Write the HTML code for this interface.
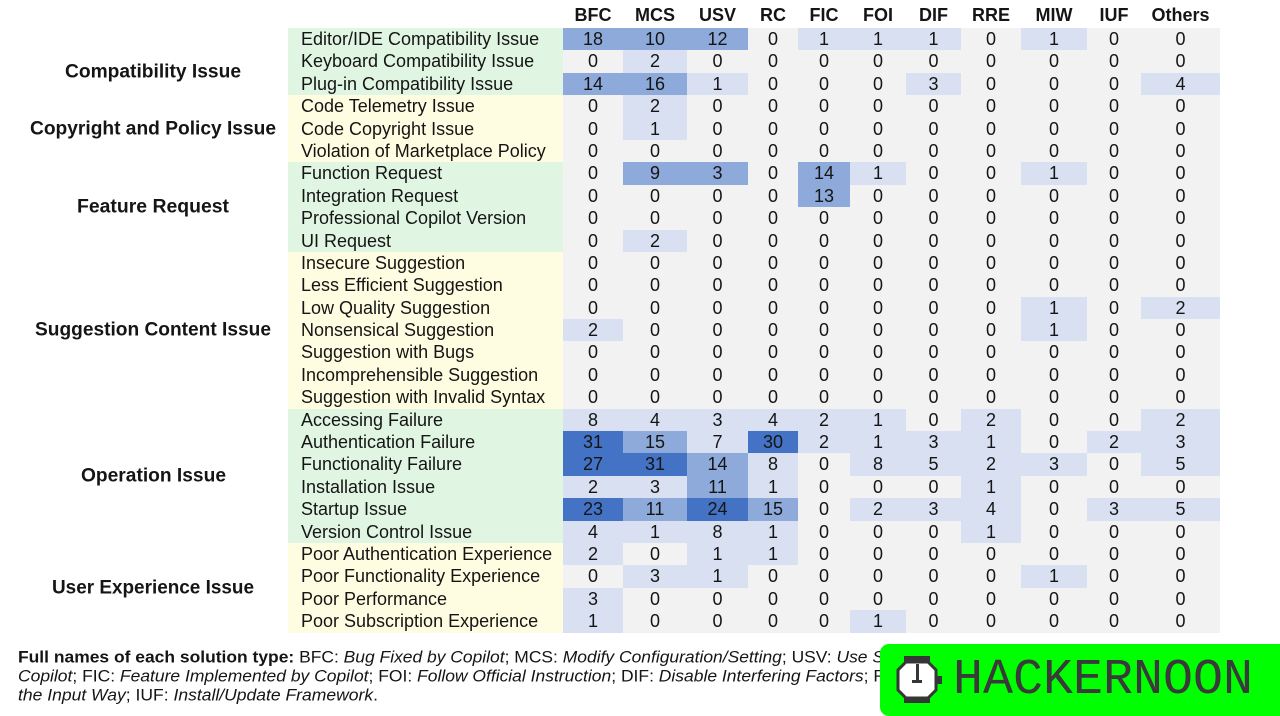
<!DOCTYPE html>
<html><head><meta charset="utf-8">
<style>
*{box-sizing:border-box}
body{margin:0;width:1280px;height:716px;background:#fff;position:relative;overflow:hidden;font-family:"Liberation Sans",Arial,sans-serif;color:#151515}
.grid{position:absolute;left:563px;display:grid;grid-template-columns:60px 64px 61px 50px 52px 56px 55px 60px 66px 54px 79px;grid-auto-rows:22.4px}
.grid div{text-align:center;line-height:22.4px;font-size:18px;white-space:nowrap}
#hdr{top:4px;font-weight:bold}
#bd{top:28px;background:#f2f2f2}
.l{background:#d8e0f1}.m{background:#8eaadb}.d{background:#4472c4}
#lab{position:absolute;left:288px;top:28px;width:275px}
#lab div{height:22.4px;line-height:22.4px;padding-left:13px;font-size:18px;white-space:nowrap}
.g{background:#e0f5e2}.y{background:#fffde1}
svg{position:absolute;left:0;top:0}
</style></head><body>

<div id="hdr" class="grid">
<div>BFC</div><div>MCS</div><div>USV</div><div>RC</div><div>FIC</div><div>FOI</div><div>DIF</div><div>RRE</div><div>MIW</div><div>IUF</div><div>Others</div>
</div>

<div id="lab">
<div class="g">Editor/IDE Compatibility Issue</div>
<div class="g">Keyboard Compatibility Issue</div>
<div class="g">Plug-in Compatibility Issue</div>
<div class="y">Code Telemetry Issue</div>
<div class="y">Code Copyright Issue</div>
<div class="y">Violation of Marketplace Policy</div>
<div class="g">Function Request</div>
<div class="g">Integration Request</div>
<div class="g">Professional Copilot Version</div>
<div class="g">UI Request</div>
<div class="y">Insecure Suggestion</div>
<div class="y">Less Efficient Suggestion</div>
<div class="y">Low Quality Suggestion</div>
<div class="y">Nonsensical Suggestion</div>
<div class="y">Suggestion with Bugs</div>
<div class="y">Incomprehensible Suggestion</div>
<div class="y">Suggestion with Invalid Syntax</div>
<div class="g">Accessing Failure</div>
<div class="g">Authentication Failure</div>
<div class="g">Functionality Failure</div>
<div class="g">Installation Issue</div>
<div class="g">Startup Issue</div>
<div class="g">Version Control Issue</div>
<div class="y">Poor Authentication Experience</div>
<div class="y">Poor Functionality Experience</div>
<div class="y">Poor Performance</div>
<div class="y">Poor Subscription Experience</div>
</div>

<div id="bd" class="grid">
<div class="m">18</div><div class="m">10</div><div class="m">12</div><div>0</div><div class="l">1</div><div class="l">1</div><div class="l">1</div><div>0</div><div class="l">1</div><div>0</div><div>0</div>
<div>0</div><div class="l">2</div><div>0</div><div>0</div><div>0</div><div>0</div><div>0</div><div>0</div><div>0</div><div>0</div><div>0</div>
<div class="m">14</div><div class="m">16</div><div class="l">1</div><div>0</div><div>0</div><div>0</div><div class="l">3</div><div>0</div><div>0</div><div>0</div><div class="l">4</div>
<div>0</div><div class="l">2</div><div>0</div><div>0</div><div>0</div><div>0</div><div>0</div><div>0</div><div>0</div><div>0</div><div>0</div>
<div>0</div><div class="l">1</div><div>0</div><div>0</div><div>0</div><div>0</div><div>0</div><div>0</div><div>0</div><div>0</div><div>0</div>
<div>0</div><div>0</div><div>0</div><div>0</div><div>0</div><div>0</div><div>0</div><div>0</div><div>0</div><div>0</div><div>0</div>
<div>0</div><div class="m">9</div><div class="m">3</div><div>0</div><div class="m">14</div><div class="l">1</div><div>0</div><div>0</div><div class="l">1</div><div>0</div><div>0</div>
<div>0</div><div>0</div><div>0</div><div>0</div><div class="m">13</div><div>0</div><div>0</div><div>0</div><div>0</div><div>0</div><div>0</div>
<div>0</div><div>0</div><div>0</div><div>0</div><div>0</div><div>0</div><div>0</div><div>0</div><div>0</div><div>0</div><div>0</div>
<div>0</div><div class="l">2</div><div>0</div><div>0</div><div>0</div><div>0</div><div>0</div><div>0</div><div>0</div><div>0</div><div>0</div>
<div>0</div><div>0</div><div>0</div><div>0</div><div>0</div><div>0</div><div>0</div><div>0</div><div>0</div><div>0</div><div>0</div>
<div>0</div><div>0</div><div>0</div><div>0</div><div>0</div><div>0</div><div>0</div><div>0</div><div>0</div><div>0</div><div>0</div>
<div>0</div><div>0</div><div>0</div><div>0</div><div>0</div><div>0</div><div>0</div><div>0</div><div class="l">1</div><div>0</div><div class="l">2</div>
<div class="l">2</div><div>0</div><div>0</div><div>0</div><div>0</div><div>0</div><div>0</div><div>0</div><div class="l">1</div><div>0</div><div>0</div>
<div>0</div><div>0</div><div>0</div><div>0</div><div>0</div><div>0</div><div>0</div><div>0</div><div>0</div><div>0</div><div>0</div>
<div>0</div><div>0</div><div>0</div><div>0</div><div>0</div><div>0</div><div>0</div><div>0</div><div>0</div><div>0</div><div>0</div>
<div>0</div><div>0</div><div>0</div><div>0</div><div>0</div><div>0</div><div>0</div><div>0</div><div>0</div><div>0</div><div>0</div>
<div class="l">8</div><div class="l">4</div><div class="l">3</div><div class="l">4</div><div class="l">2</div><div class="l">1</div><div>0</div><div class="l">2</div><div>0</div><div>0</div><div class="l">2</div>
<div class="d">31</div><div class="m">15</div><div class="l">7</div><div class="d">30</div><div class="l">2</div><div class="l">1</div><div class="l">3</div><div class="l">1</div><div>0</div><div class="l">2</div><div class="l">3</div>
<div class="d">27</div><div class="d">31</div><div class="m">14</div><div class="l">8</div><div>0</div><div class="l">8</div><div class="l">5</div><div class="l">2</div><div class="l">3</div><div>0</div><div class="l">5</div>
<div class="l">2</div><div class="l">3</div><div class="m">11</div><div class="l">1</div><div>0</div><div>0</div><div>0</div><div class="l">1</div><div>0</div><div>0</div><div>0</div>
<div class="d">23</div><div class="m">11</div><div class="d">24</div><div class="m">15</div><div>0</div><div class="l">2</div><div class="l">3</div><div class="l">4</div><div>0</div><div class="l">3</div><div class="l">5</div>
<div class="l">4</div><div class="l">1</div><div class="l">8</div><div class="l">1</div><div>0</div><div>0</div><div>0</div><div class="l">1</div><div>0</div><div>0</div><div>0</div>
<div class="l">2</div><div>0</div><div class="l">1</div><div class="l">1</div><div>0</div><div>0</div><div>0</div><div>0</div><div>0</div><div>0</div><div>0</div>
<div>0</div><div class="l">3</div><div class="l">1</div><div>0</div><div>0</div><div>0</div><div>0</div><div>0</div><div class="l">1</div><div>0</div><div>0</div>
<div class="l">3</div><div>0</div><div>0</div><div>0</div><div>0</div><div>0</div><div>0</div><div>0</div><div>0</div><div>0</div><div>0</div>
<div class="l">1</div><div>0</div><div>0</div><div>0</div><div>0</div><div class="l">1</div><div>0</div><div>0</div><div>0</div><div>0</div><div>0</div>
</div>

<svg width="1280" height="716" viewBox="0 0 1280 716" xmlns="http://www.w3.org/2000/svg">
<g font-family="Liberation Sans, Arial, sans-serif" font-weight="bold" font-size="19" fill="#151515" text-anchor="middle">
<text x="153" y="77.5" textLength="176" lengthAdjust="spacingAndGlyphs">Compatibility Issue</text>
<text x="153" y="134.5" textLength="246" lengthAdjust="spacingAndGlyphs">Copyright and Policy Issue</text>
<text x="153" y="212.5" textLength="152" lengthAdjust="spacingAndGlyphs">Feature Request</text>
<text x="153" y="335.5" textLength="236" lengthAdjust="spacingAndGlyphs">Suggestion Content Issue</text>
<text x="153.5" y="481.5" textLength="145" lengthAdjust="spacingAndGlyphs">Operation Issue</text>
<text x="153" y="593.5" textLength="202" lengthAdjust="spacingAndGlyphs">User Experience Issue</text>
</g>
<g font-family="Liberation Sans, Arial, sans-serif" font-size="16.5" fill="#151515">
<text x="18" y="662.5" textLength="866" lengthAdjust="spacingAndGlyphs"><tspan font-weight="bold">Full names of each solution type:</tspan> BFC: <tspan font-style="italic">Bug Fixed by Copilot</tspan>; MCS: <tspan font-style="italic">Modify Configuration/Setting</tspan>; USV: <tspan font-style="italic">Use S</tspan></text>
<text x="18" y="681.5" textLength="868" lengthAdjust="spacingAndGlyphs"><tspan font-style="italic">Copilot</tspan>; FIC: <tspan font-style="italic">Feature Implemented by Copilot</tspan>; FOI: <tspan font-style="italic">Follow Official Instruction</tspan>; DIF: <tspan font-style="italic">Disable Interfering Factors</tspan>; R</text>
<text x="18" y="700.5" textLength="360" lengthAdjust="spacingAndGlyphs"><tspan font-style="italic">the Input Way</tspan>; IUF: <tspan font-style="italic">Install/Update Framework</tspan>.</text>
</g>
<rect x="880" y="644" width="410" height="72" rx="9" fill="#00ff00"/>
<g fill="#363636">
<rect x="904" y="656" width="26" height="8"/>
<rect x="904" y="694" width="26" height="9"/>
<polygon points="906,662 928,662 936,670 936,690 928,698 906,698 898,690 898,670" fill="#ffffff" stroke="#363636" stroke-width="3"/>
<rect x="936" y="676" width="6" height="8"/>
<rect x="916" y="664" width="3" height="18"/>
<rect x="912" y="680" width="10" height="3"/>
</g>
<text x="953" y="693" font-family="Liberation Mono, DejaVu Sans Mono, monospace" font-size="50" fill="#3a3a3a" textLength="300" lengthAdjust="spacingAndGlyphs">HACKERNOON</text>
</svg>
</body></html>
